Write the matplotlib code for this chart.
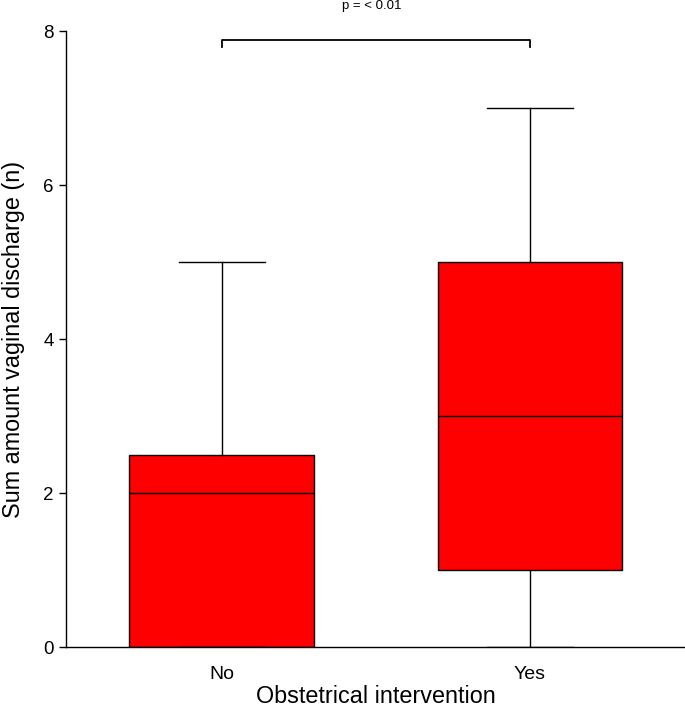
import matplotlib
matplotlib.use("Agg")
import matplotlib.pyplot as plt

plt.rcParams['font.family'] = ['Liberation Sans', 'DejaVu Sans']

categories = ["No", "Yes"]
mins = [0, 0]
q1s = [0, 1]
medians = [2, 3]
q3s = [2.5, 5]
maxs = [5, 7]
p_text = "p = < 0.01"

fig = plt.figure(figsize=(6.85, 7.09), dpi=100)
ax = fig.add_axes([66/685, 1-647/709, 1-66/685, (647-31)/709])

stats = []
for c, lo, a, m, b, hi in zip(categories, mins, q1s, medians, q3s, maxs):
    stats.append(dict(label=c, whislo=lo, q1=a, med=m, q3=b, whishi=hi, fliers=[]))

ax.bxp(stats, positions=[0, 1], widths=0.6, patch_artist=True, showfliers=False,
       boxprops=dict(facecolor='#ff0000', edgecolor='black', linewidth=1.0),
       medianprops=dict(color='black', linewidth=1.0),
       whiskerprops=dict(color='black', linewidth=1.0),
       capprops=dict(color='black', linewidth=1.0), capwidths=0.28)

ax.set_xlim(-0.506, 1.503)
ax.set_ylim(0, 8)
ax.set_yticks([0, 2, 4, 6, 8])
for s in ['top', 'right']:
    ax.spines[s].set_visible(False)
ax.spines['left'].set_linewidth(1.0)
ax.spines['bottom'].set_linewidth(1.0)
ax.tick_params(axis='y', length=5, width=1.0, labelsize=13.5, pad=4)
ax.tick_params(axis='x', length=0, labelsize=14, pad=14)
ax.set_xticklabels(categories)
ax.set_ylabel("Sum amount vaginal discharge (n)", fontsize=16.8)
ax.set_xlabel("Obstetrical intervention", fontsize=16.8)
ax.yaxis.set_label_coords(-0.066, 0.5)
ax.xaxis.set_label_coords(0.5, -0.062)

# significance bracket
yb, yt = 7.79, 7.88
ax.plot([0, 0, 1, 1], [yb, yt, yt, yb], color='black', linewidth=1.3, clip_on=False)
ax.text(0.485, 8.32, p_text, ha='center', va='center', fontsize=9.5)

fig.savefig("out.png", dpi=100)
